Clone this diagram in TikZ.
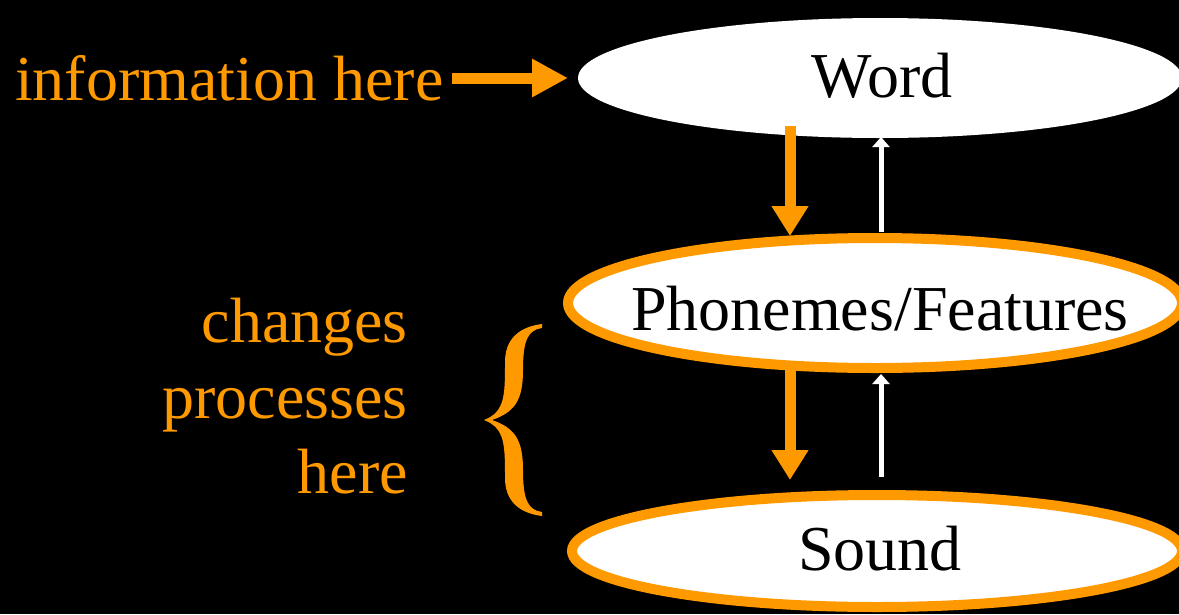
\documentclass[tikz,border=0pt]{standalone}
\usepackage{fontspec}
\setmainfont{Liberation Serif}
\usetikzlibrary{arrows.meta,shapes.geometric}
\definecolor{org}{RGB}{255,153,0}
\begin{document}
\begin{tikzpicture}[x=1pt,y=-1pt,
  bigtext/.style={font=\fontsize{64}{76}\selectfont, inner sep=0pt},
  lbl/.style={bigtext, text=org},
  bubble/.style={ellipse, fill=white, inner sep=0pt},
  ring/.style={bubble, draw=org, line width=10pt},
  down/.style={draw=org, line width=11pt, -{Triangle[length=30pt,width=35pt]}},
  fwd/.style={draw=org, line width=11pt, -{Triangle[length=36pt,width=36pt]}},
  up/.style={draw=white, line width=5pt, -{Triangle[length=10pt,width=17pt]}}]
\useasboundingbox (0,0) rectangle (1179,614);
\clip (0,0) rectangle (1179,614);
\fill[black] (0,0) rectangle (1179,614);
% ellipses
\node[bubble, minimum width=604pt, minimum height=120pt] (word) at (880,78) {};
\node[ring, minimum width=614pt, minimum height=130pt] (phon) at (875,303) {};
\node[ring, minimum width=610pt, minimum height=112pt] (sound) at (877,551) {};
% texts
\node[bigtext, anchor=base] (wordt) at (882,97) {Word};
\node[bigtext, anchor=base] (phont) at (880,330) {Phonemes/Features};
\node[bigtext, anchor=base] (soundt) at (880,570) {Sound};
\node[lbl, anchor=base west] (info) at (15,100) {information here};
\node[lbl, anchor=base east] (l1) at (408,342) {changes};
\node[lbl, anchor=base east] (l2) at (408,418) {processes};
\node[lbl, anchor=base east] (l3) at (408,493) {here};
% connector end points
\coordinate (infoS) at (452,78);
\coordinate (wordW) at (568,78);
\coordinate (d1s) at (790,126);
\coordinate (d1e) at (790,236);
\coordinate (u1s) at (881,232);
\coordinate (u1e) at (881,137);
\coordinate (d2s) at (790,368);
\coordinate (d2e) at (790,480);
\coordinate (u2s) at (881,477);
\coordinate (u2e) at (881,374);
% arrows
\draw[fwd] (infoS) -- (wordW);
\draw[down] (d1s) -- (d1e);
\draw[up] (u1s) -- (u1e);
\draw[down] (d2s) -- (d2e);
\draw[up] (u2s) -- (u2e);
% brace
\fill[org] (542,324) .. controls (518,327) and (505,340) .. (505,362)
  .. controls (505,395) and (505,412) .. (484,420)
  .. controls (505,428) and (505,445) .. (505,478)
  .. controls (505,500) and (518,513) .. (542,516)
  -- (542,512) .. controls (528,510) and (523,500) .. (523,470)
  .. controls (523,440) and (515,428) .. (492,420)
  .. controls (515,412) and (523,400) .. (523,370)
  .. controls (523,340) and (528,330) .. (542,328) -- cycle;
\end{tikzpicture}
\end{document}
